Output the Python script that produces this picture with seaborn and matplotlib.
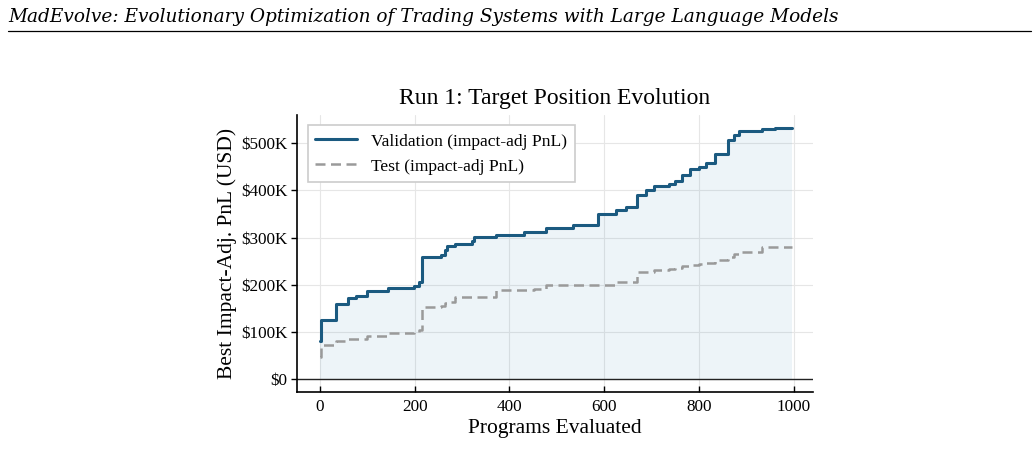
import numpy as np
import pandas as pd
import matplotlib
matplotlib.use("Agg")
import matplotlib.pyplot as plt
import seaborn as sns
from matplotlib.lines import Line2D
from matplotlib.ticker import FuncFormatter

# program count at which the best score changed
programs = [0, 3, 34, 60, 77, 100, 144, 198, 210, 216, 256, 264, 269, 286, 321, 326,
            371, 430, 451, 477, 534, 587, 624, 645, 668, 687, 705, 736, 750, 764,
            780, 800, 814, 833, 860, 873, 884, 933, 961, 995]
# best impact-adjusted PnL, thousands of USD
val_k = [80, 125, 160, 173, 176, 186, 194, 197, 206, 258, 263, 273, 283, 287, 292, 301,
         305, 311, 312, 320, 326, 351, 358, 365, 391, 402, 409, 414, 421, 432,
         445, 450, 459, 477, 506, 517, 526, 530, 533, 533]
test_k = [47, 72, 81, 85, 86, 92, 98, 100, 104, 153, 155, 162, 163, 174, 175, 175,
          189, 190, 192, 199, 199, 200, 206, 207, 227, 228, 231, 233, 236, 239,
          241, 244, 247, 252, 258, 266, 269, 280, 280, 280]

val_color = "#1b5a80"
test_color = "#9a9a9a"

df = pd.DataFrame({
    "programs": programs,
    "val": np.array(val_k) * 1000,
    "test": np.array(test_k) * 1000,
})

sns.set_style("whitegrid")
plt.rcParams["font.family"] = ["Liberation Serif", "DejaVu Serif"]
for key in ["text.color", "axes.labelcolor", "xtick.color", "ytick.color"]:
    plt.rcParams[key] = "black"

fig = plt.figure(figsize=(10.36, 4.49), dpi=100)
ax = fig.add_axes([0.2867, 0.127, 0.498, 0.617])

ax.fill_between(df["programs"], 0, df["val"], step="post", color="#3a86b8", alpha=0.09, lw=0)
sns.lineplot(data=df, x="programs", y="val", ax=ax, color=val_color, lw=2.2,
             drawstyle="steps-post", label="Validation (impact-adj PnL)")
sns.lineplot(data=df, x="programs", y="test", ax=ax, color=test_color, lw=1.8,
             linestyle=(0, (4, 2.2)), drawstyle="steps-post", label="Test (impact-adj PnL)")
ax.axhline(0, color="#222222", lw=1.0)

ax.set_xlim(-48, 1040)
ax.set_ylim(-27000, 560000)
ax.set_xticks([0, 200, 400, 600, 800, 1000])
ax.set_yticks([0, 100000, 200000, 300000, 400000, 500000])
ax.yaxis.set_major_formatter(FuncFormatter(lambda v, p: f"${v/1000:.0f}K" if v else "$0"))

ax.set_title("Run 1: Target Position Evolution", fontsize=17, pad=8)
ax.set_xlabel("Programs Evaluated", fontsize=15.5, labelpad=3)
ax.set_ylabel("Best Impact-Adj. PnL (USD)", fontsize=15.5, labelpad=3)
ax.tick_params(axis="both", labelsize=12.3, length=4, width=1, bottom=True, left=True, pad=3)
ax.tick_params(axis="x", direction="in", pad=5)
ax.tick_params(axis="y", direction="out")

ax.grid(True, color="#e6e6e6", lw=0.8)
for side in ["top", "right"]:
    ax.spines[side].set_visible(False)
for side in ["left", "bottom"]:
    ax.spines[side].set_color("black")
    ax.spines[side].set_linewidth(1.2)

leg = ax.legend(loc="upper left", fontsize=12.6, frameon=True, fancybox=False,
                edgecolor="#cccccc", framealpha=1, borderpad=0.45, handlelength=2.4,
                borderaxespad=0.6)
leg.get_frame().set_linewidth(1.2)

# running header of the paper
fig.text(0.008, 0.962, "MadEvolve: Evolutionary Optimization of Trading Systems with Large Language Models",
         fontsize=13.3, style="italic", family="DejaVu Serif", va="center", ha="left")
fig.add_artist(Line2D([0.008, 0.995], [0.932, 0.932], color="black", lw=0.9,
                      transform=fig.transFigure))

plt.savefig("out.png", dpi=100, facecolor="white")
